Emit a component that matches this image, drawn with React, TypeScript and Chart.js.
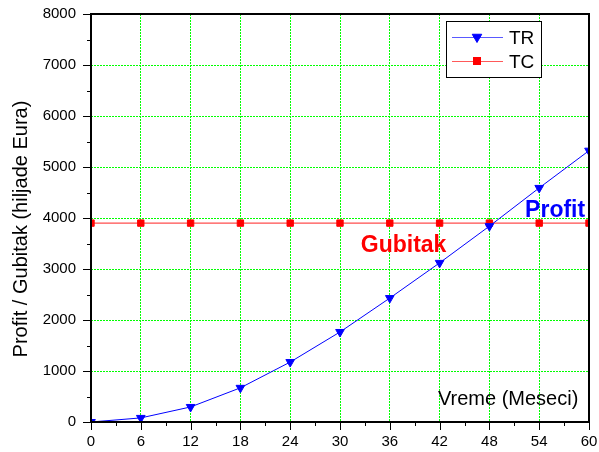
import React, { useEffect, useRef } from "react";
import { Chart, registerables } from "chart.js";

Chart.register(...registerables);

// ---- data ----
const months = [0, 6, 12, 18, 24, 30, 36, 42, 48, 54, 60];
const trValues = [0, 80, 295, 670, 1175, 1765, 2430, 3120, 3840, 4590, 5320];
const tcValues = [3900, 3900, 3900, 3900, 3900, 3900, 3900, 3900, 3900, 3900, 3900];
const seriesNames = ["TR", "TC"];
const xMin = 0;
const xMax = 60;
const xStep = 6;
const yMin = 0;
const yMax = 8000;
const yStep = 1000;
const yAxisTitle = "Profit / Gubitak (hiljade Eura)";
const xAxisTitle = "Vreme (Meseci)";
const profitLabel = "Profit";
const lossLabel = "Gubitak";

const FONT = "'Liberation Sans', Arial, sans-serif";
const BLUE = "#0000ff";
const RED = "#ff0000";

function drawTriangleDown(ctx: CanvasRenderingContext2D, x: number, y: number, r: number) {
  const s = Math.sin(Math.PI / 3) * r;
  ctx.beginPath();
  ctx.moveTo(x, y + r);
  ctx.lineTo(x - s, y - r / 2);
  ctx.lineTo(x + s, y - r / 2);
  ctx.closePath();
  ctx.fill();
  ctx.stroke();
}

const zeroPad = (s: any) => {
  s.paddingLeft = 0;
  s.paddingRight = 0;
  s.paddingTop = 0;
  s.paddingBottom = 0;
};

const framePlugin = {
  id: "framePlugin",
  afterDraw(chart: any) {
    const ctx: CanvasRenderingContext2D = chart.ctx;
    const a = chart.chartArea;
    const xs = chart.scales.x;
    const ys = chart.scales.y;
    ctx.save();
    // ticks
    ctx.strokeStyle = "#000";
    ctx.lineWidth = 1;
    for (let v = xMin; v <= xMax + 1e-9; v += xStep / 2) {
      const isMajor = Math.abs(v / xStep - Math.round(v / xStep)) < 1e-9;
      const px = Math.round(xs.getPixelForValue(v)) + 0.5;
      ctx.beginPath();
      ctx.moveTo(px, a.bottom);
      ctx.lineTo(px, a.bottom + (isMajor ? 8 : 4));
      ctx.stroke();
    }
    for (let v = yMin; v <= yMax + 1e-9; v += yStep / 2) {
      const isMajor = Math.abs(v / yStep - Math.round(v / yStep)) < 1e-9;
      const py = Math.round(ys.getPixelForValue(v)) + 0.5;
      ctx.beginPath();
      ctx.moveTo(a.left, py);
      ctx.lineTo(a.left - (isMajor ? 8 : 4), py);
      ctx.stroke();
    }
    // frame
    ctx.lineWidth = 2;
    ctx.strokeRect(a.left, a.top, a.right - a.left, a.bottom - a.top);

    // y axis title
    ctx.fillStyle = "#000";
    ctx.font = `20px ${FONT}`;
    ctx.save();
    ctx.translate(27, (a.top + a.bottom) / 2 + 11);
    ctx.rotate(-Math.PI / 2);
    ctx.textAlign = "center";
    ctx.textBaseline = "alphabetic";
    ctx.fillText(yAxisTitle, 0, 0);
    ctx.restore();

    // x axis title (inside plot)
    ctx.textAlign = "left";
    ctx.textBaseline = "alphabetic";
    ctx.font = `20px ${FONT}`;
    ctx.fillText(xAxisTitle, xs.getPixelForValue(41.8), ys.getPixelForValue(330));

    // annotations
    ctx.font = `bold 23px ${FONT}`;
    ctx.fillStyle = BLUE;
    ctx.fillText(profitLabel, xs.getPixelForValue(52.3), ys.getPixelForValue(4020));
    ctx.fillStyle = RED;
    ctx.fillText(lossLabel, xs.getPixelForValue(32.5), ys.getPixelForValue(3330));

    // legend
    const bx = a.right - 143;
    const by = a.top + 7;
    const bw = 95;
    const bh = 56;
    ctx.fillStyle = "#fff";
    ctx.fillRect(bx, by, bw, bh);
    ctx.lineWidth = 1;
    ctx.strokeStyle = "#000";
    ctx.strokeRect(bx + 0.5, by + 0.5, bw, bh);
    const rows = [
      { name: seriesNames[0], color: BLUE, y: by + 16, marker: "tri" },
      { name: seriesNames[1], color: RED, y: by + 40, marker: "rect" },
    ];
    rows.forEach((r) => {
      ctx.strokeStyle = r.color;
      ctx.globalAlpha = 0.65;
      ctx.lineWidth = 1;
      ctx.beginPath();
      ctx.moveTo(bx + 6, r.y + 0.5);
      ctx.lineTo(bx + 57, r.y + 0.5);
      ctx.stroke();
      ctx.globalAlpha = 1;
      ctx.fillStyle = r.color;
      ctx.strokeStyle = r.color;
      if (r.marker === "tri") {
        drawTriangleDown(ctx, bx + 31, r.y, 5.5);
      } else {
        ctx.fillRect(bx + 27, r.y - 4, 8, 8);
      }
      ctx.fillStyle = "#000";
      ctx.font = `19px ${FONT}`;
      ctx.textAlign = "left";
      ctx.textBaseline = "alphabetic";
      ctx.fillText(r.name, bx + 63, r.y + 7);
    });
    ctx.restore();
  },
};

export default function App() {
  const canvasRef = useRef<HTMLCanvasElement | null>(null);

  useEffect(() => {
    if (!canvasRef.current) return;
    const trData = months.map((m, i) => ({ x: m, y: trValues[i] }));
    const tcData = months.map((m, i) => ({ x: m, y: tcValues[i] }));
    const chart = new Chart(canvasRef.current, {
      type: "line",
      data: {
        datasets: [
          {
            label: seriesNames[0],
            data: trData,
            borderColor: BLUE,
            backgroundColor: BLUE,
            borderWidth: 1,
            pointStyle: "triangle",
            rotation: 180,
            pointRadius: 5,
            pointBorderWidth: 1,
            pointBackgroundColor: BLUE,
            pointBorderColor: BLUE,
            tension: 0,
            clip: 0,
          } as any,
          {
            label: seriesNames[1],
            data: tcData,
            borderColor: "rgba(255,0,0,0.7)",
            backgroundColor: RED,
            borderWidth: 1.2,
            pointStyle: "rect",
            pointRadius: 4.5,
            pointBorderWidth: 1,
            pointBackgroundColor: RED,
            pointBorderColor: RED,
            tension: 0,
            clip: 0,
          } as any,
        ],
      },
      options: {
        responsive: false,
        animation: false,
        layout: { padding: { top: 14, right: 10, left: 0, bottom: 0 } },
        plugins: {
          legend: { display: false },
          tooltip: { enabled: false },
        },
        scales: {
          x: {
            type: "linear",
            min: xMin,
            max: xMax,
            afterFit: (s: any) => {
              s.height = 30;
              zeroPad(s);
            },
            ticks: {
              stepSize: xStep,
              color: "#000",
              padding: 11,
              font: { family: FONT, size: 15 },
              callback: (v: any) => String(v),
              maxRotation: 0,
            },
            grid: {
              color: "#00ff00",
              lineWidth: 1,
              drawTicks: false,
            },
            border: { display: false, dash: [2, 1] },
          },
          y: {
            type: "linear",
            min: yMin,
            max: yMax,
            afterFit: (s: any) => {
              s.width = 91;
              zeroPad(s);
            },
            ticks: {
              stepSize: yStep,
              color: "#000",
              padding: 15,
              font: { family: FONT, size: 15 },
              callback: (v: any) => String(v),
            },
            grid: {
              color: "#00ff00",
              lineWidth: 1,
              drawTicks: false,
            },
            border: { display: false, dash: [2, 1] },
          },
        },
      } as any,
      plugins: [framePlugin],
    });
    return () => chart.destroy();
  }, []);

  return (
    <div style={{ position: "absolute", left: 0, top: 0, width: 599, height: 452 }}>
      <canvas ref={canvasRef} width={599} height={452} style={{ display: "block" }} />
    </div>
  );
}
